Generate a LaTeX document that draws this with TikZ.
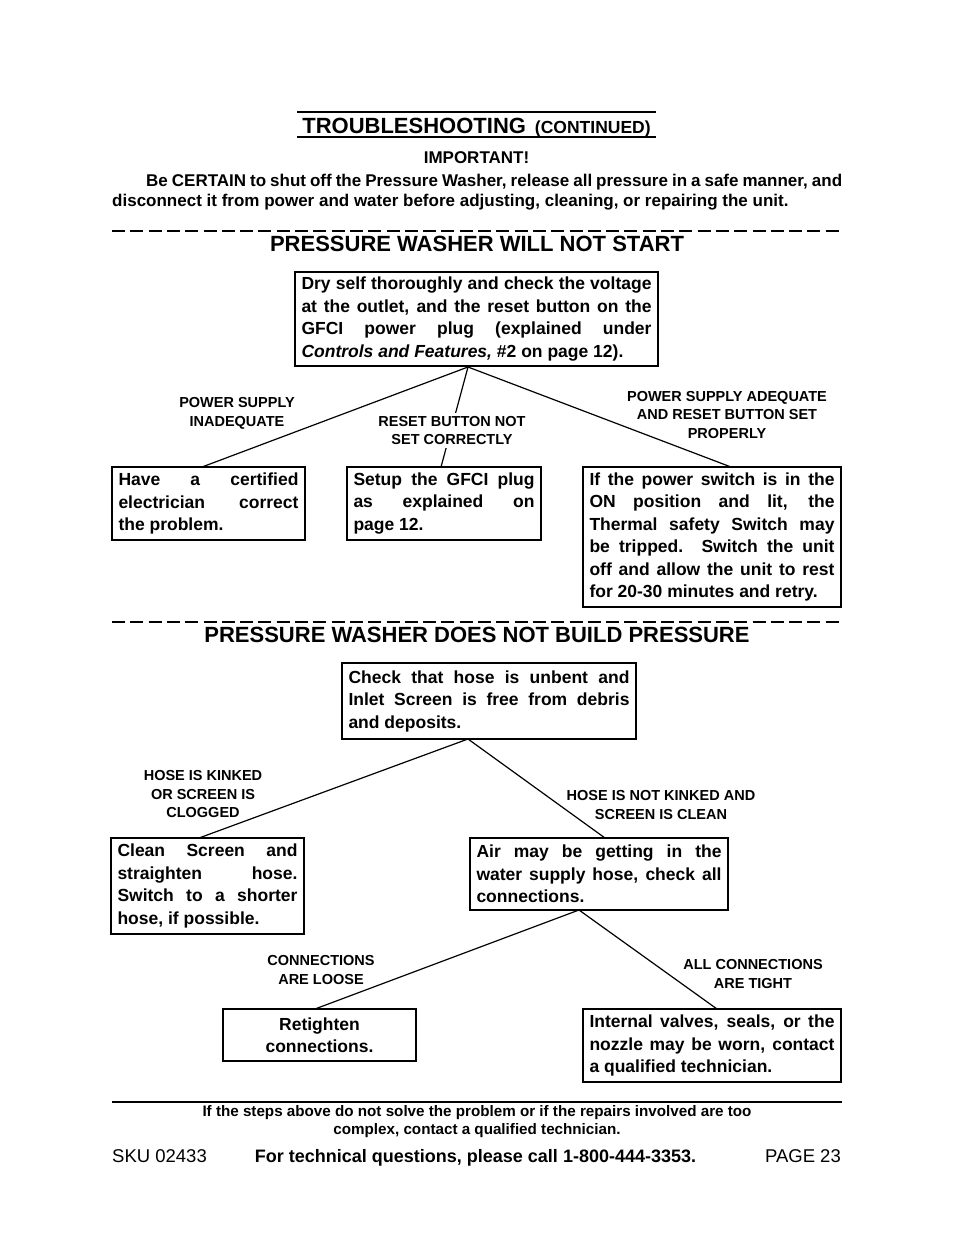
\documentclass[tikz,border=0pt]{standalone}
\usepackage{fontspec}
\setmainfont{Liberation Sans}
\tolerance=9999
\hbadness=10000
\newcommand\myfs[2]{\fontsize{#1}{#2}\selectfont}
\tikzset{
  box/.style={draw, line width=1.6pt, inner xsep=6.5pt, inner ysep=0pt, align=justify,
    font=\bfseries\myfs{17.5}{22.5}},
  lbl/.style={align=center, inner sep=1pt, font=\bfseries\myfs{14.5}{18.8}},
  conn/.style={line width=1.2pt},
  dashrule/.style={line width=2pt, dash pattern=on 13pt off 5.3pt},
  solidrule/.style={line width=1.6pt},
}
\begin{document}
\begin{tikzpicture}[x=1pt,y=-1pt]
\useasboundingbox (0,0) rectangle (954,1235);
\fill[white] (0,0) rectangle (954,1235);

% title
\draw[solidrule] (297,112) -- (656,112);
\draw[solidrule] (297,137) -- (656,137);
\node[anchor=base, inner sep=0pt, font=\bfseries] (title) at (476.5,133)
  {{\myfs{22}{24}TROUBLESHOOTING}\hspace{9pt}{\myfs{17.5}{20}(CONTINUED)}};
\node[anchor=base, inner sep=0pt, font=\bfseries\myfs{17}{20}] (imp) at (476.5,163) {IMPORTANT!};
\node[anchor=base west, inner sep=0pt, font=\bfseries\myfs{17}{20}] (par1) at (146,186)
  {\makebox[696pt][s]{Be CERTAIN to shut off the Pressure Washer, release all pressure in a safe manner, and}};
\node[anchor=base west, inner sep=0pt, font=\bfseries\myfs{17}{20}] (par2) at (112,206)
  {disconnect it from power and water before adjusting, cleaning, or repairing the unit.};

% section 1
\draw[dashrule] (112,231) -- (842,231);
\node[anchor=base, inner sep=0pt, font=\bfseries\myfs{22}{24}] (h1) at (477,251) {PRESSURE WASHER WILL NOT START};

\node[box, minimum width=363pt, minimum height=94pt, text width=350pt] (a) at (476.5,319)
  {Dry self thoroughly and check the voltage\linebreak at the outlet, and the reset button on the\linebreak GFCI power plug (explained under\linebreak \textit{Controls and Features,} \#2 on page 12).};
\node[box, minimum width=193pt, minimum height=73pt, text width=180pt] (b1) at (208.5,503.5)
  {Have a certified\linebreak electrician correct\linebreak the problem.};
\node[box, minimum width=194pt, minimum height=73pt, text width=181pt] (b2) at (444,503.5)
  {Setup the GFCI plug\linebreak as explained on\linebreak page 12.};
\node[box, minimum width=258pt, minimum height=140pt, text width=245pt] (b3) at (712,537)
  {If the power switch is in the\linebreak ON position and lit, the\linebreak Thermal safety Switch may\linebreak be tripped.\ \ Switch the unit\linebreak off and allow the unit to rest\linebreak for 20-30 minutes and retry.};

\coordinate (a-ap) at (468,367);
\coordinate (b1-top) at (202,467);
\coordinate (b2-top) at (441,467);
\coordinate (b3-top) at (731,467);
\draw[conn] (a-ap) -- (b1-top);
\draw[conn] (a-ap) -- (b2-top);
\draw[conn] (a-ap) -- (b3-top);
\node[lbl] (l1) at (237,413) {POWER SUPPLY\\INADEQUATE};
\node[lbl, fill=white, inner ysep=3pt] (l2) at (452,430.5) {RESET BUTTON NOT\\SET CORRECTLY};
\node[lbl] (l3) at (727,415) {POWER SUPPLY ADEQUATE\\AND RESET BUTTON SET\\PROPERLY};

% section 2
\draw[dashrule] (112,622) -- (842,622);
\node[anchor=base, inner sep=0pt, font=\bfseries\myfs{22}{24}] (h2) at (477,642) {PRESSURE WASHER DOES NOT BUILD PRESSURE};

\node[box, minimum width=294pt, minimum height=76pt, text width=281pt] (c) at (489,701)
  {Check that hose is unbent and\linebreak Inlet Screen is free from debris\linebreak and deposits.};
\node[box, minimum width=193pt, minimum height=96pt, text width=180pt] (d1) at (207.5,886)
  {Clean Screen and\linebreak straighten hose.\linebreak Switch to a shorter\linebreak hose, if possible.};
\node[box, minimum width=258pt, minimum height=72pt, text width=245pt] (d2) at (599,874)
  {Air may be getting in the\linebreak water supply hose, check all\linebreak connections.};
\node[box, align=center, minimum width=193pt, minimum height=52pt, text width=180pt] (e1) at (319.5,1035)
  {Retighten\\connections.};
\node[box, minimum width=258pt, minimum height=73pt, text width=245pt] (e2) at (712,1045.5)
  {Internal valves, seals, or the\linebreak nozzle may be worn, contact\linebreak a qualified technician.};

\coordinate (c-ap) at (468,739);
\coordinate (d1-top) at (199,838);
\coordinate (d2-top) at (605,838);
\draw[conn] (c-ap) -- (d1-top);
\draw[conn] (c-ap) -- (d2-top);
\coordinate (d2-ap) at (579,910);
\coordinate (e1-top) at (315,1009);
\coordinate (e2-top) at (717,1009);
\draw[conn] (d2-ap) -- (e1-top);
\draw[conn] (d2-ap) -- (e2-top);

\node[lbl] (l4) at (203,794) {HOSE IS KINKED\\OR SCREEN IS\\CLOGGED};
\node[lbl] (l5) at (661,805) {HOSE IS NOT KINKED AND\\SCREEN IS CLEAN};
\node[lbl] (l6) at (321,970) {CONNECTIONS\\ARE LOOSE};
\node[lbl] (l7) at (753,974) {ALL CONNECTIONS\\ARE TIGHT};

% footer
\draw[line width=2pt] (112,1102) -- (842,1102);
\node[align=center, inner sep=0pt, font=\bfseries\myfs{15.2}{18}] (note) at (477,1121.5)
  {If the steps above do not solve the problem or if the repairs involved are too\\complex, contact a qualified technician.};
\node[anchor=base west, inner sep=0pt, font=\myfs{18.5}{20}] (sku) at (112,1162) {SKU\ 02433};
\node[anchor=base, inner sep=0pt, font=\bfseries\myfs{18}{20}] (tech) at (475.5,1162) {For technical questions, please call 1-800-444-3353.};
\node[anchor=base east, inner sep=0pt, font=\myfs{18.5}{20}] (page) at (841,1162) {PAGE 23};
\end{tikzpicture}
\end{document}
